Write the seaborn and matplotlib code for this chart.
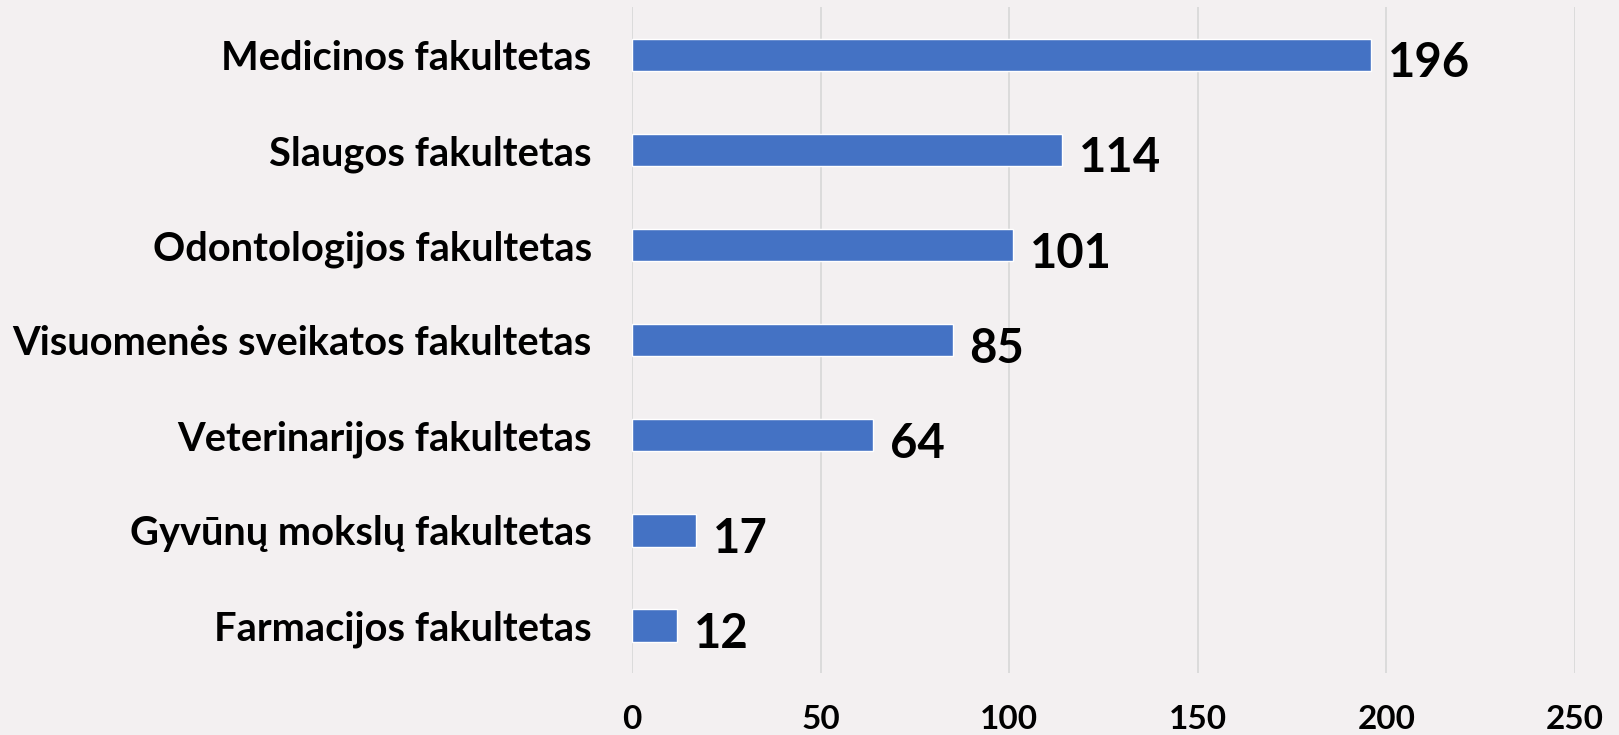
import matplotlib
matplotlib.use("Agg")
import matplotlib.pyplot as plt
import seaborn as sns
import pandas as pd

categories = ["Medicinos fakultetas", "Slaugos fakultetas", "Odontologijos fakultetas",
              "Visuomenės sveikatos fakultetas", "Veterinarijos fakultetas",
              "Gyvūnų mokslų fakultetas", "Farmacijos fakultetas"]
values = [196, 114, 101, 85, 64, 17, 12]
xticks = [0, 50, 100, 150, 200, 250]

BG = "#F3F0F1"
sns.set_theme(style="white")
plt.rcParams['font.family'] = ['Lato', 'DejaVu Sans']
plt.rcParams['font.weight'] = 'bold'
plt.rcParams['text.color'] = 'black'
plt.rcParams['xtick.color'] = 'black'
plt.rcParams['ytick.color'] = 'black'

df = pd.DataFrame({"cat": categories, "val": values})

fig = plt.figure(figsize=(16.19, 7.35), dpi=100, facecolor=BG)
ax = fig.add_axes([632/1619, 1-673/735, (1575-632)/1619, (673-7.5)/735])
ax.set_facecolor(BG)

sns.barplot(data=df, x="val", y="cat", orient="h", color="#4472C4", width=0.34,
            saturation=1, ax=ax, zorder=3)

ax.set_xlim(0, 250)
ax.set_ylim(6.5, -0.5)
ax.set_xticks(xticks)
ax.set_xticklabels([str(t) for t in xticks], fontsize=24, fontweight='bold', color='black')
ax.tick_params(axis='x', length=0, pad=23, labelcolor='black')
ax.tick_params(axis='y', length=0, pad=29, labelsize=28.7, labelcolor='black')
for lbl in ax.get_yticklabels():
    lbl.set_fontweight('bold')
ax.grid(axis='x', color="#D9D9D9", linewidth=1.3, zorder=0)
ax.grid(axis='y', visible=False)
for s in ax.spines.values():
    s.set_visible(False)
ax.set_xlabel("")
ax.set_ylabel("")

for i, v in enumerate(values):
    ax.annotate(str(v), xy=(v, i), xytext=(12, -6), textcoords="offset points",
                ha="left", va="center", fontsize=34, fontweight="bold", color="black")

fig.savefig("out.png", dpi=100, facecolor=BG)
